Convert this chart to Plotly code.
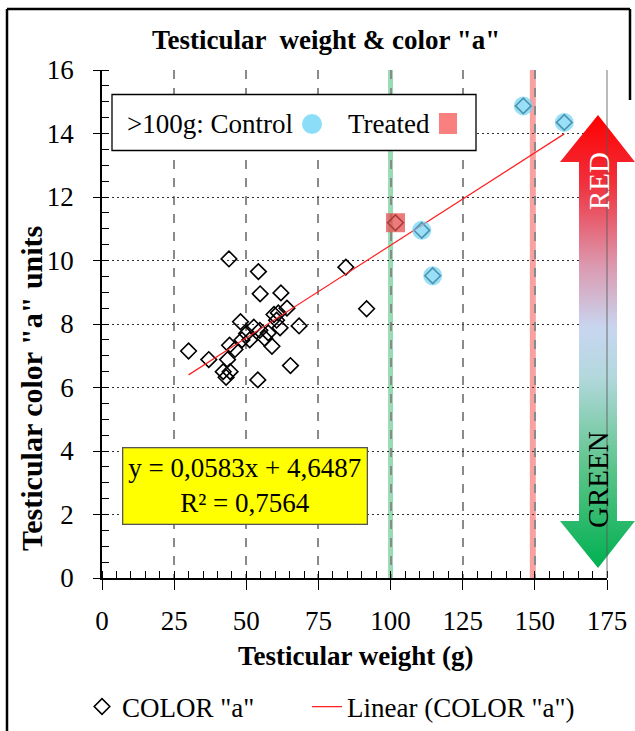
import base64
import plotly.graph_objects as go

# ---------------- data ----------------
weight_g = [30.0, 37.0, 42.0, 44.4, 43.0, 43.5, 44.2, 46.1, 44.0, 48.0,
            48.5, 50.1, 51.2, 52.6, 54.2, 54.8, 54.7, 54.0, 56.4, 57.6,
            58.9, 59.6, 60.5, 61.1, 61.7, 62.0, 64.1, 65.3, 68.3, 84.5,
            91.7, 101.7, 110.8, 114.6, 146.0, 160.2]
color_a = [7.15, 6.88, 6.50, 6.50, 6.32, 6.88, 7.33, 7.20, 10.05, 8.07,
           7.50, 7.70, 7.50, 7.90, 9.65, 8.95, 7.80, 6.24, 7.55, 7.72,
           7.30, 8.30, 8.12, 8.35, 7.88, 8.98, 8.50, 6.69, 7.94, 9.79,
           8.48, 11.19, 10.95, 9.52, 14.87, 14.35]

control_x = [110.8, 114.6, 146.0, 160.2]
control_y = [10.95, 9.52, 14.87, 14.35]
treated_x = [101.7]
treated_y = [11.19]

slope = 0.0583
intercept = 4.6487
r2 = 0.7564

green_threshold = 100
red_threshold = 149.3

x_ticks = [0, 25, 50, 75, 100, 125, 150, 175]
y_ticks = [0, 2, 4, 6, 8, 10, 12, 14, 16]

FONT = "Liberation Serif"

# ---------- layout helpers (pixel -> paper) ----------
L, R, T, B = 102, 28, 70, 153
W, H = 635, 731
PW, PH = W - L - R, H - T - B


def px(xp):
    return (xp - L) / PW


def py(yp):
    return (H - B - yp) / PH


fig = go.Figure()

# scatter diamonds
fig.add_trace(go.Scatter(
    x=weight_g, y=color_a, mode="markers", name='COLOR "a"',
    marker=dict(symbol="diamond-open", size=12, color="black",
                line=dict(width=1.6, color="black")),
    legendwidth=180,
))

# linear trend line
x_lo, x_hi = min(weight_g), max(weight_g)
fig.add_trace(go.Scatter(
    x=[x_lo, x_hi], y=[slope * x_lo + intercept, slope * x_hi + intercept],
    mode="lines", name='Linear (COLOR "a")',
    line=dict(color="#ff2020", width=1.2),
))

# control circles
fig.add_trace(go.Scatter(
    x=control_x, y=control_y, mode="markers", showlegend=False,
    marker=dict(symbol="circle", size=19, color="rgb(110,210,245)", opacity=0.7,
                line=dict(width=0)),
))
# treated square
fig.add_trace(go.Scatter(
    x=treated_x, y=treated_y, mode="markers", showlegend=False,
    marker=dict(symbol="square", size=19, color="rgb(230,80,80)", opacity=0.75,
                line=dict(width=0)),
))

shapes = []
# threshold bands
shapes.append(dict(type="line", xref="x", yref="y", x0=green_threshold, x1=green_threshold,
                   y0=-0.3, y1=16, line=dict(color="rgba(70,190,120,0.55)", width=5), layer="below"))
shapes.append(dict(type="line", xref="x", yref="y", x0=red_threshold, x1=red_threshold,
                   y0=-0.3, y1=16, line=dict(color="rgba(245,110,110,0.65)", width=6), layer="below"))

# inside legend box
shapes.append(dict(type="rect", xref="paper", yref="paper", x0=px(112), x1=px(476),
                   y0=py(150.5), y1=py(94.5), line=dict(color="black", width=1.3),
                   fillcolor="white", layer="above"))
shapes.append(dict(type="circle", xref="paper", yref="paper", x0=px(302), x1=px(322),
                   y0=py(134), y1=py(114), line=dict(width=0),
                   fillcolor="rgb(140,222,248)", layer="above"))
shapes.append(dict(type="rect", xref="paper", yref="paper", x0=px(439), x1=px(457),
                   y0=py(134), y1=py(113), line=dict(width=0),
                   fillcolor="rgb(250,128,128)", layer="above"))

# right plot border (over the arrow)
shapes.append(dict(type="line", xref="paper", yref="paper", x0=1, x1=1, y0=0, y1=1,
                   line=dict(color="rgba(90,90,90,0.55)", width=1.5), layer="above"))
# outer chart frame
shapes.append(dict(type="line", xref="paper", yref="paper", x0=px(7), x1=px(7), y0=py(9), y1=py(760),
                   line=dict(color="black", width=2.5), layer="above"))
shapes.append(dict(type="line", xref="paper", yref="paper", x0=px(7), x1=px(630), y0=py(9), y1=py(9),
                   line=dict(color="black", width=2.5), layer="above"))
shapes.append(dict(type="line", xref="paper", yref="paper", x0=px(630), x1=px(630), y0=py(9), y1=py(100),
                   line=dict(color="black", width=2.5), layer="above"))

# gradient double arrow as svg image
aw, ah = 75, 453
svg = f'''<svg xmlns="http://www.w3.org/2000/svg" width="{aw}" height="{ah}" viewBox="0 0 {aw} {ah}" preserveAspectRatio="none">
<defs><linearGradient id="g" x1="0" y1="0" x2="0" y2="1">
<stop offset="0" stop-color="#ff0000"/>
<stop offset="0.15" stop-color="#f0303c"/>
<stop offset="0.33" stop-color="#dc98ae"/>
<stop offset="0.47" stop-color="#c8d6f0"/>
<stop offset="0.58" stop-color="#b2d8dc"/>
<stop offset="0.78" stop-color="#5cc48a"/>
<stop offset="1" stop-color="#00b050"/>
</linearGradient></defs>
<polygon points="38,0 75,47 57,47 57,406 75,406 38,453 0,406 19,406 19,47 0,47" fill="url(#g)"/>
</svg>'''
src = "data:image/svg+xml;base64," + base64.b64encode(svg.encode()).decode()

annotations = [
    dict(text='<b>Testicular  weight &amp; color "a"</b>', xref="paper", yref="paper",
         x=px(326), y=py(40), showarrow=False, xanchor="center", yanchor="middle",
         font=dict(family=FONT, size=27, color="black")),
    dict(text='<b>Testicular color "a" units</b>', xref="paper", yref="paper",
         x=px(31), y=py(389), showarrow=False, textangle=-90, xanchor="center", yanchor="middle",
         font=dict(family=FONT, size=30, color="black")),
    dict(text="<b>Testicular weight (g)</b>", xref="paper", yref="paper",
         x=px(356), y=py(656), showarrow=False, xanchor="center", yanchor="middle",
         font=dict(family=FONT, size=27, color="black")),
    dict(text=">100g: Control", xref="paper", yref="paper", x=px(125), y=py(124),
         showarrow=False, xanchor="left", yanchor="middle",
         font=dict(family=FONT, size=27, color="black")),
    dict(text="Treated", xref="paper", yref="paper", x=px(346), y=py(124),
         showarrow=False, xanchor="left", yanchor="middle",
         font=dict(family=FONT, size=27, color="black")),
    dict(text=f"y = {str(slope).replace('.', ',')}x + {str(intercept).replace('.', ',')}<br>R² = {str(r2).replace('.', ',')}",
         xref="paper", yref="paper", x=px(244.5), y=py(486), showarrow=False,
         xanchor="center", yanchor="middle", align="center",
         bgcolor="#ffff00", bordercolor="#555555", borderwidth=1.3, borderpad=5,
         font=dict(family=FONT, size=27, color="black")),
    dict(text="RED", xref="paper", yref="paper", x=px(599), y=py(181), showarrow=False,
         textangle=-90, xanchor="center", yanchor="middle",
         font=dict(family=FONT, size=29, color="white")),
    dict(text="GREEN", xref="paper", yref="paper", x=px(598), y=py(480), showarrow=False,
         textangle=-90, xanchor="center", yanchor="middle",
         font=dict(family=FONT, size=29, color="black")),
]

fig.update_layout(
    width=W, height=H,
    margin=dict(l=L, r=R, t=T, b=B, pad=0, autoexpand=False),
    paper_bgcolor="white", plot_bgcolor="white",
    font=dict(family=FONT, size=26, color="black"),
    shapes=shapes,
    annotations=annotations,
    images=[dict(source=src, xref="paper", yref="paper", x=px(560), y=py(115),
                 sizex=aw / PW, sizey=ah / PH, xanchor="left", yanchor="top",
                 sizing="stretch", layer="above")],
    showlegend=True,
    legend=dict(orientation="h", x=px(82), y=py(707), xanchor="left", yanchor="middle",
                font=dict(family=FONT, size=27, color="black"),
                bgcolor="rgba(0,0,0,0)"),
)

fig.update_xaxes(
    range=[0, 175], tickvals=x_ticks, ticktext=[str(v) for v in x_ticks],
    showline=True, linecolor="black", linewidth=1.5,
    ticks="outside", ticklen=10, tickwidth=1.3, tickcolor="black",
    ticklabelstandoff=8,
    showgrid=True, gridcolor="#8a8a8a", gridwidth=1.5, griddash="dash",
    zeroline=False,
    minor=dict(dtick=5, ticks="inside", ticklen=7, tickwidth=1.2, tickcolor="black", showgrid=False),
    tickfont=dict(family=FONT, size=27),
)
fig.update_yaxes(
    range=[0, 16], tickvals=y_ticks, ticktext=[str(v) for v in y_ticks],
    showline=True, linecolor="black", linewidth=1.5,
    ticks="outside", ticklen=7, tickwidth=1.3, tickcolor="black",
    ticklabelstandoff=14,
    showgrid=True, gridcolor="#333333", gridwidth=1.3, griddash="2px,3px",
    zeroline=False,
    minor=dict(dtick=0.5, ticks="inside", ticklen=7, tickwidth=1.2, tickcolor="black", showgrid=False),
    tickfont=dict(family=FONT, size=27),
)

fig.write_html(
    "out.html",
    config={"displayModeBar": False},
    post_script="document.body.style.margin='0';document.body.style.overflow='hidden';",
)
